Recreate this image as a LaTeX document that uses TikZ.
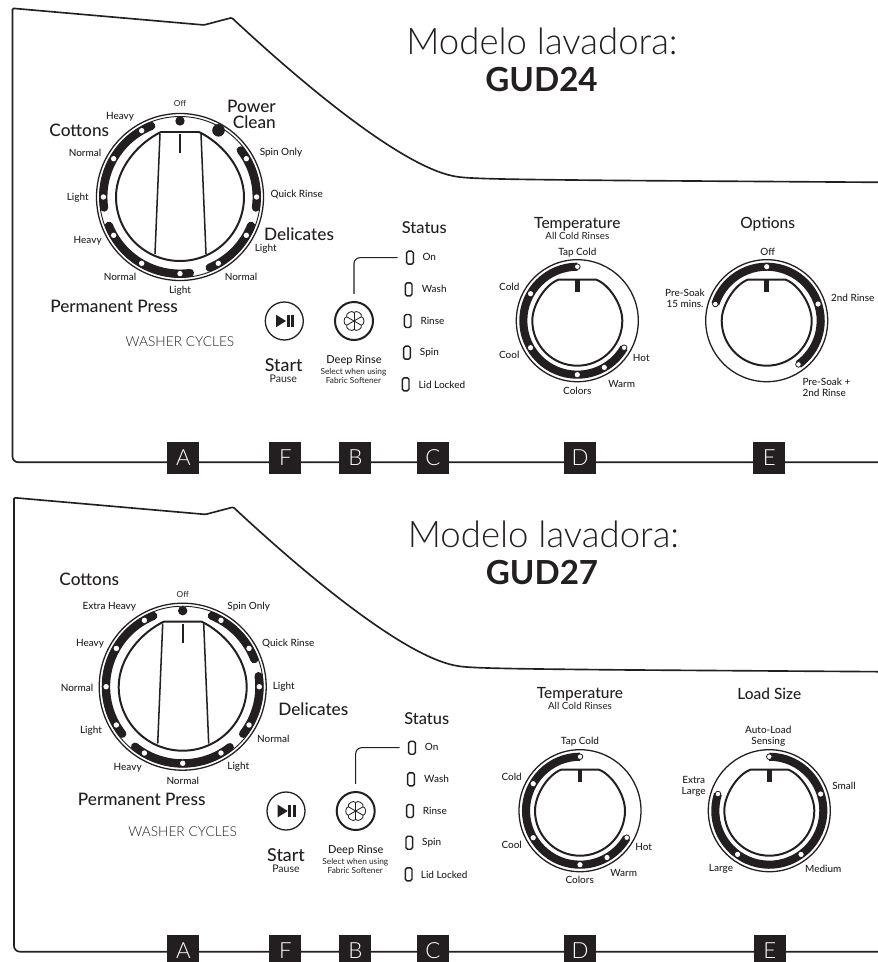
\documentclass[tikz,border=0pt]{standalone}
\usepackage{fontspec}
\setmainfont{Lato}
\newfontfamily\lightfont{Lato Light}
\newfontfamily\mediumfont{Lato Medium}
\usetikzlibrary{positioning,calc}
\definecolor{panelink}{HTML}{231F20}

\tikzset{
  lbl/.style={inner sep=0pt, text=panelink, font=\mediumfont\fontsize{8.5}{9.3}\selectfont, align=center},
  tinylbl/.style={lbl, font=\fontsize{7.1}{7.5}\selectfont},
  rinselbl/.style={lbl, font=\fontsize{8.4}{9}\selectfont},
  deeplbl/.style={lbl, font=\mediumfont\fontsize{9.4}{10}\selectfont},
  pauselbl/.style={lbl, font=\fontsize{9}{10}\selectfont},
  startlbl/.style={lbl, font=\mediumfont\fontsize{15.2}{15}\selectfont},
  heading/.style={lbl, font=\mediumfont\fontsize{13.2}{14}\selectfont},
  mainhead/.style={lbl, font=\mediumfont\fontsize{14.7}{13.2}\selectfont},
  panelname/.style={lbl, font=\lightfont\fontsize{11.7}{12}\selectfont},
  modeltitle/.style={lbl, font=\lightfont\fontsize{31.2}{34}\selectfont},
  modelname/.style={lbl, font=\bfseries\fontsize{28.3}{33}\selectfont},
  letter/.style={text=white, inner sep=0pt, font=\lightfont\fontsize{19}{19}\selectfont},
  badge/.style={letter, fill=panelink, minimum size=0.96cm},
  frameline/.style={draw=panelink, line width=1.4pt},
  ring/.style={draw=panelink, line width=1.1pt},
  knobline/.style={draw=panelink, line width=1.7pt},
  dialarc/.style={draw=panelink, line width=6.9pt},
  bigarc/.style={dialarc, line cap=round},
  bigdot/.style={fill=white},
  enddot/.style={draw=panelink, fill=white, line width=0.7pt},
  button/.style={circle, draw=panelink, minimum size=1.14cm, inner sep=0pt},
  led/.style={draw=panelink, line width=1.2pt, rounded corners=1.4pt, minimum width=0.2cm, minimum height=0.39cm, inner sep=0pt},
}

% outline of one panel, bottom right round to the right hand edge
\newcommand{\panelframe}{
  \draw[frameline, rounded corners=5pt] (878, -462.3) -- (12.5, -462.3)
    [rounded corners=1pt] -- (12.5, -8.3) -- (204, -25) -- (231.7, -17.7)
    [sharp corners] .. controls (320, -100) and (410, -170) .. (457, -176.7)
    .. controls (470, -179) and (520, -179.5) .. (620, -180.5) -- (878, -182.3);
}
% rings, knob and pointer of the cycle dial
\newcommand{\bigdial}{
  \draw[ring] (0, 0) circle[radius=83.5];
  \draw[ring, line width=0.8pt] (0, 0) circle[radius=80.5];
  \draw[knobline, line join=round] (-19, 65) -- (19, 65) .. controls (40, 55) and (64, 30) .. (64, 0)
    arc[start angle=0, end angle=-180, radius=64] .. controls (-64, 30) and (-40, 55) .. (-19, 65) -- cycle;
  \draw[knobline, line width=1.3pt] (-20, 63) -- (-25, -57);
  \draw[knobline, line width=1.3pt] (21, 63) -- (26, -57);
  \draw[knobline, line width=1.7pt] (0, 63) -- (0, 44);
}
% ring, knob and pointer of the small dials
\newcommand{\smalldial}{
  \draw[ring] (0, 0) circle[radius=61];
  \draw[knobline, line join=round] (-19, 41) -- (19, 41) .. controls (32, 36) and (45, 16) .. (45, 0)
    arc[start angle=0, end angle=-180, radius=45] .. controls (-45, 16) and (-32, 36) .. (-19, 41) -- cycle;
  \draw[knobline, line width=3.8pt] (0, 41) -- (0, 29);
}
% two triangle and bars icon, and the flower, both about the button centre
\newcommand{\playicon}{
  \fill[panelink] (-8.3, 6.3) -- (1.7, 0) -- (-8.3, -6.3) -- cycle;
  \fill[panelink] (2.4, -6.3) rectangle (5.2, 6.3);
  \fill[panelink] (6.8, -6.3) rectangle (9.6, 6.3);
}
\newcommand{\flowericon}{
  \foreach \a in {0, 60, ..., 300} {
    \draw[panelink, line width=0.7pt] (0, 0) -- (\a+30:8.5);
    \draw[panelink, line width=0.7pt] (\a+30:8.5) .. controls (\a+40:11.5) and (\a+80:11.5) .. (\a+90:8.5);
  }
}

\begin{document}
\begin{tikzpicture}[x=0.03cm, y=0.03cm]
  \useasboundingbox (0, 0) rectangle (878, -962);
  \clip (0, 0) rectangle (878, -962);

  % Panel outlines
  \panelframe
  \begin{scope}[shift={(1.5, -489.4)}]
    \panelframe
  \end{scope}

  % Titles
  \node[modeltitle] (titlea) at (542, -41) {Modelo lavadora:};
  \node[modelname] (modela) at (541.5, -79.5) {GUD24};
  \node[modeltitle] (titleb) at (543.5, -534) {Modelo lavadora:};
  \node[modelname] (modelb) at (542, -572.5) {GUD27};

  % Letters along the bottom of the upper panel
  \node[badge] (abadge) at (183.4, -458) {A};
  \node[badge] (fbadge) at (285.4, -458) {F};
  \node[badge] (bbadge) at (355.4, -458) {B};
  \node[badge] (cbadge) at (433, -458) {C};
  \node[badge] (dbadge) at (580, -458) {D};
  \node[badge] (ebadge) at (769.3, -458) {E};

  % Letters along the bottom of the lower panel, their squares run off the page
  \foreach \x in {183.4, 285.4, 355.4, 433, 580, 769.7}
    \fill[panelink] (\x-16, -935) rectangle (\x+16, -962);
  \node[letter] (abadgeb) at (183.4, -950.5) {A};
  \node[letter] (fbadgeb) at (285.4, -950.5) {F};
  \node[letter] (bbadgeb) at (355.4, -950.5) {B};
  \node[letter] (cbadgeb) at (433, -950.5) {C};
  \node[letter] (dbadgeb) at (580, -950.5) {D};
  \node[letter] (ebadgeb) at (769.7, -950.5) {E};

  % Cycle dial GUD24
  \begin{scope}[shift={(180, -197)}]
    \bigdial
    \draw[bigarc] (112:76.6) arc[start angle=112, end angle=188, radius=76.6];
    \draw[bigarc] (202:76.6) arc[start angle=202, end angle=277.5, radius=76.6];
    \draw[bigarc] (292.7:76.6) arc[start angle=292.7, end angle=338, radius=76.6];
    \draw[bigarc] (37.6:76.6) arc[start angle=37.6, end angle=-8, radius=76.6];
    \foreach \a in {120, 150, 180, 210, 240, 270, 300, 330, 30, 0}
      \fill[bigdot] (\a:76.6) circle[radius=2.7];
    \fill[panelink] (90:76) circle[radius=4.7];
    \fill[panelink] (60:77) circle[radius=6.3];
  \end{scope}
  \node[tinylbl] (aoff) at (180, -103.3) {Off};
  \node[lbl] (aheavy) at (120, -117) {Heavy};
  \node[mainhead] (acottons) at (79.3, -130) {Cottons};
  \node[mainhead, align=right] (apower) at (251.5, -114.5) {Power\\Clean};
  \node[lbl] (anormal) at (85, -153.3) {Normal};
  \node[lbl] (aspin) at (281, -152.7) {Spin Only};
  \node[lbl] (alight) at (77.7, -197.3) {Light};
  \node[lbl] (aquick) at (296.7, -194.7) {Quick Rinse};
  \node[lbl] (apheavy) at (87.7, -240.7) {Heavy};
  \node[mainhead] (adelicates) at (299, -234) {Delicates};
  \node[lbl] (adlight) at (265.7, -249) {Light};
  \node[lbl] (apnormal) at (120, -277.3) {Normal};
  \node[lbl] (adnormal) at (241, -276.7) {Normal};
  \node[lbl] (aplight) at (180, -290.3) {Light};
  \node[mainhead] (apress) at (114, -306.7) {Permanent Press};
  \node[panelname] (acycles) at (180, -341.7) {WASHER CYCLES};

  % Start and Deep Rinse GUD24
  \node[button, line width=1.1pt] (startbtn) at (284.3, -321) {};
  \begin{scope}[shift={(startbtn.center)}]
    \playicon
  \end{scope}
  \node[startlbl] (astart) at (283.7, -365) {Start};
  \node[pauselbl] (apause) at (283.3, -379) {Pause};
  \node[button, line width=1.7pt] (deepbtn) at (354, -321) {};
  \begin{scope}[shift={(deepbtn.center)}]
    \flowericon
  \end{scope}
  \node[deeplbl] (adeep) at (354, -360.7) {Deep Rinse};
  \node[tinylbl] (aselect) at (353.5, -376.3) {Select when using\\Fabric Softener};

  % Status lights GUD24
  \node[heading, font=\mediumfont\fontsize{14}{15}\selectfont] (astatus) at (424.3, -227.7) {Status};
  \node[led] (ledon) at (410, -257.7) {};
  \node[led] (ledwash) at (408.7, -289.3) {};
  \node[led] (ledrinse) at (407.7, -321) {};
  \node[led] (ledspin) at (407, -352.7) {};
  \node[led] (ledlid) at (405.7, -384.3) {};
  \node[lbl, anchor=west] (aon) at (422.3, -257.2) {On};
  \node[lbl, anchor=west] (awash) at (421.7, -289) {Wash};
  \node[lbl, anchor=west] (arinse) at (420.3, -321) {Rinse};
  \node[lbl, anchor=west] (aspinl) at (419.7, -352.7) {Spin};
  \node[lbl, anchor=west] (alid) at (418.3, -384.5) {Lid Locked};
  \draw[panelink, line width=0.9pt, rounded corners=5pt, shorten <=7.2pt, shorten >=6pt] (ledon.west) -| (deepbtn.north);

  % Temperature GUD24
  \node[heading] (atemp) at (577.3, -224.3) {Temperature};
  \node[rinselbl] (arinses) at (577.3, -236.3) {All Cold Rinses};
  \begin{scope}[shift={(577.3, -320.7)}]
    \smalldial
    \draw[dialarc] (90:54) arc[start angle=90, end angle=330, radius=54];
    \foreach \a in {150, 210, 270, 300}
      \fill[bigdot] (\a:54) circle[radius=2.6];
    \foreach \a in {90, 330}
      \draw[enddot] (\a:54) circle[radius=2.8];
  \end{scope}
  \node[lbl] (atap) at (577.3, -252.3) {Tap Cold};
  \node[lbl] (acold) at (509.3, -287) {Cold};
  \node[lbl] (acool) at (509.3, -355) {Cool};
  \node[lbl] (ahot) at (641.3, -357.7) {Hot};
  \node[lbl] (awarm) at (621.7, -383.7) {Warm};
  \node[lbl] (acolors) at (577.3, -390.7) {Colors};

  % Options GUD24
  \node[heading] (aoptions) at (767.7, -224.3) {Options};
  \begin{scope}[shift={(766.7, -320.7)}]
    \smalldial
    \draw[dialarc] (162:54) arc[start angle=162, end angle=-54, radius=54];
    \foreach \a in {90, 18}
      \fill[bigdot] (\a:54) circle[radius=2.6];
    \foreach \a in {162, -54}
      \draw[enddot] (\a:54) circle[radius=2.8];
  \end{scope}
  \node[lbl] (aoptoff) at (767.7, -252.3) {Off};
  \node[lbl] (asoak) at (685, -298.7) {Pre-Soak\\15 mins.};
  \node[lbl] (asecond) at (852.7, -298.3) {2nd Rinse};
  \node[lbl, anchor=west, align=left] (aboth) at (802.3, -387.7) {Pre-Soak +\\2nd Rinse};

  % Cycle dial GUD27
  \begin{scope}[shift={(182.7, -686.7)}]
    \bigdial
    \draw[bigarc] (112.5:76.6) arc[start angle=112.5, end angle=218, radius=76.6];
    \draw[bigarc] (231.5:76.6) arc[start angle=231.5, end angle=308, radius=76.6];
    \draw[bigarc] (322:76.6) arc[start angle=322, end angle=368, radius=76.6];
    \draw[bigarc] (21:76.6) arc[start angle=21, end angle=67.7, radius=76.6];
    \foreach \a in {120, 150, 180, 210, 240, 270, 300, 330, 0, 30, 60}
      \fill[bigdot] (\a:76.6) circle[radius=2.7];
    \fill[panelink] (90:76) circle[radius=4.7];
  \end{scope}
  \node[mainhead] (bcottons) at (89.3, -579) {Cottons};
  \node[tinylbl] (boff) at (182.7, -594) {Off};
  \node[lbl] (bextra) at (109.3, -607) {Extra Heavy};
  \node[lbl] (bspin) at (248.7, -607) {Spin Only};
  \node[lbl] (bheavy) at (90, -643.7) {Heavy};
  \node[lbl] (bquick) at (288.3, -643.7) {Quick Rinse};
  \node[lbl] (bnormal) at (77, -687.7) {Normal};
  \node[lbl] (bdlight) at (283.7, -686.7) {Light};
  \node[mainhead] (bdelicates) at (313.3, -709) {Delicates};
  \node[lbl] (blight) at (91, -730.7) {Light};
  \node[lbl] (bdnormal) at (273.3, -739) {Normal};
  \node[lbl] (bpheavy) at (127.7, -768) {Heavy};
  \node[lbl] (bplight) at (238.3, -767) {Light};
  \node[lbl] (bpnormal) at (182.7, -780.7) {Normal};
  \node[mainhead] (bpress) at (141.7, -799.3) {Permanent Press};
  \node[panelname] (bcycles) at (182.7, -831.7) {WASHER CYCLES};

  % Start and Deep Rinse GUD27
  \node[button, line width=1.1pt] (startbtnb) at (286, -811) {};
  \begin{scope}[shift={(startbtnb.center)}]
    \playicon
  \end{scope}
  \node[startlbl] (bstart) at (286, -855.3) {Start};
  \node[pauselbl] (bpause) at (286, -869) {Pause};
  \node[button, line width=1.7pt] (deepbtnb) at (355.7, -811) {};
  \begin{scope}[shift={(deepbtnb.center)}]
    \flowericon
  \end{scope}
  \node[deeplbl] (bdeep) at (355.7, -850.7) {Deep Rinse};
  \node[tinylbl] (bselect) at (355.3, -866.3) {Select when using\\Fabric Softener};

  % Status lights GUD27
  \node[heading, font=\mediumfont\fontsize{14}{15}\selectfont] (bstatus) at (426.7, -718.3) {Status};
  \node[led] (ledonb) at (412, -747.7) {};
  \node[led] (ledwashb) at (411, -779.3) {};
  \node[led] (ledrinseb) at (410, -811) {};
  \node[led] (ledspinb) at (409.3, -842.7) {};
  \node[led] (ledlidb) at (408.7, -874.3) {};
  \node[lbl, anchor=west] (bon) at (424.7, -747.2) {On};
  \node[lbl, anchor=west] (bwash) at (424, -779) {Wash};
  \node[lbl, anchor=west] (brinse) at (422.7, -811) {Rinse};
  \node[lbl, anchor=west] (bspinl) at (422, -842.7) {Spin};
  \node[lbl, anchor=west] (blid) at (420.7, -874.5) {Lid Locked};
  \draw[panelink, line width=0.9pt, rounded corners=5pt, shorten <=7.2pt, shorten >=6pt] (ledonb.west) -| (deepbtnb.north);

  % Temperature GUD27
  \node[heading] (btemp) at (580, -694.3) {Temperature};
  \node[rinselbl] (brinses) at (580, -705.7) {All Cold Rinses};
  \begin{scope}[shift={(580, -810.7)}]
    \smalldial
    \draw[dialarc] (90:54) arc[start angle=90, end angle=330, radius=54];
    \foreach \a in {150, 210, 270, 300}
      \fill[bigdot] (\a:54) circle[radius=2.6];
    \foreach \a in {90, 330}
      \draw[enddot] (\a:54) circle[radius=2.8];
  \end{scope}
  \node[lbl] (btap) at (580, -742) {Tap Cold};
  \node[lbl] (bcold) at (511.7, -776.7) {Cold};
  \node[lbl] (bcool) at (511.7, -844.7) {Cool};
  \node[lbl] (bhot) at (643.7, -847.3) {Hot};
  \node[lbl] (bwarm) at (623.7, -873.3) {Warm};
  \node[lbl] (bcolors) at (579.7, -880.3) {Colors};

  % Load Size GUD27
  \node[heading] (bload) at (769.3, -694.3) {Load Size};
  \begin{scope}[shift={(769.3, -810.7)}]
    \smalldial
    \draw[dialarc] (162:54) arc[start angle=162, end angle=450, radius=54];
    \foreach \a in {234, 306, 18}
      \fill[bigdot] (\a:54) circle[radius=2.6];
    \foreach \a in {162, 90}
      \draw[enddot] (\a:54) circle[radius=2.8];
  \end{scope}
  \node[lbl] (bauto) at (768.3, -736.3) {Auto-Load\\Sensing};
  \node[lbl] (bsmall) at (844, -785.7) {Small};
  \node[lbl] (bxlarge) at (693.7, -786.5) {Extra\\Large};
  \node[lbl] (blarge) at (721, -869) {Large};
  \node[lbl] (bmedium) at (823.3, -869) {Medium};
\end{tikzpicture}
\end{document}
